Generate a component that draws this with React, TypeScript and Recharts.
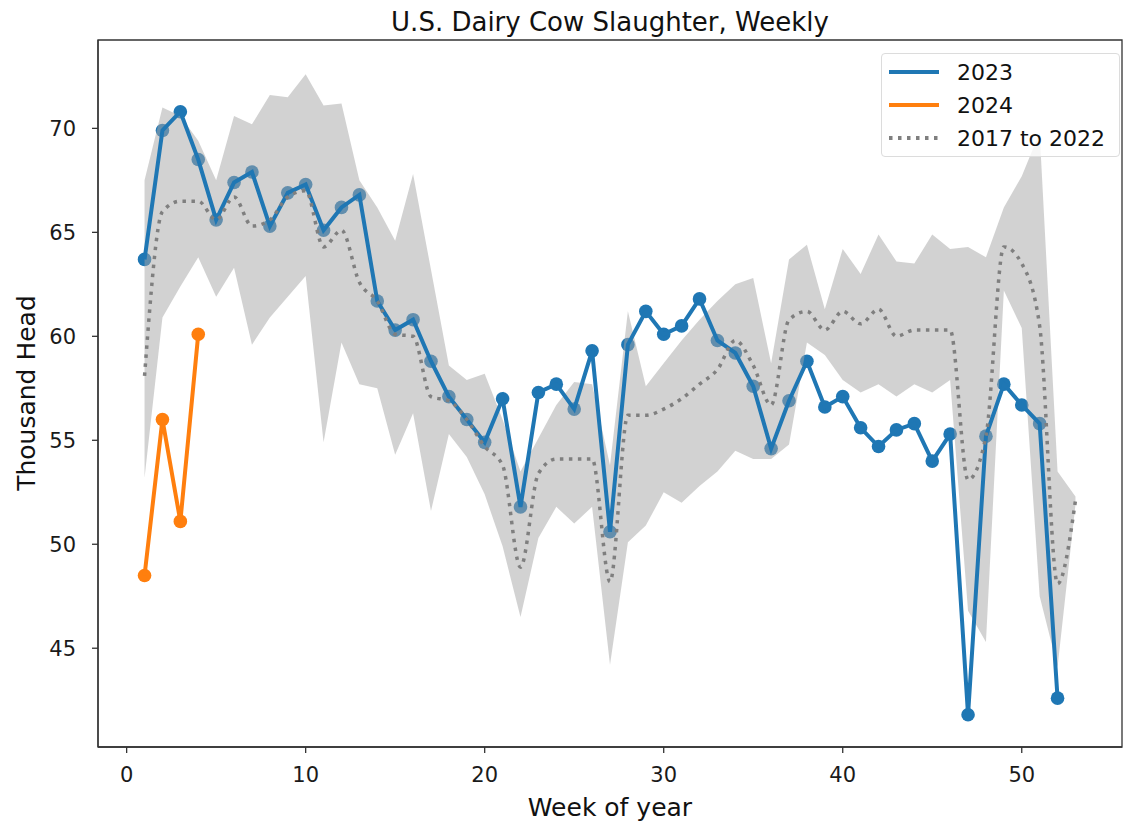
import React from 'react';
import { ComposedChart, Line, Area, XAxis, YAxis, Legend, ReferenceArea } from 'recharts';

const FONT = '"DejaVu Sans", Verdana, sans-serif';
const BLUE = '#1f77b4';
const ORANGE = '#ff7f0e';
const GREY = '#7f7f7f';

const WEEKS = [
    1, 2, 3, 4, 5, 6, 7, 8, 9, 10, 11, 12, 13, 14, 15, 16, 17, 18, 19, 20, 21, 22, 23, 24, 25, 26,
    27, 28, 29, 30, 31, 32, 33, 34, 35, 36, 37, 38, 39, 40, 41, 42, 43, 44, 45, 46, 47, 48, 49, 50, 51, 52, 53,
];

const Y2023 = [
    63.7, 69.9, 70.8, 68.5, 65.6, 67.4, 67.9, 65.3, 66.9, 67.3,
    65.1, 66.2, 66.8, 61.7, 60.3, 60.8, 58.8, 57.1, 56.0, 54.9,
    57.0, 51.8, 57.3, 57.7, 56.5, 59.3, 50.6, 59.6, 61.2, 60.1,
    60.5, 61.8, 59.8, 59.2, 57.6, 54.6, 56.9, 58.8, 56.6, 57.1,
    55.6, 54.7, 55.5, 55.8, 54.0, 55.3, 41.8, 55.2, 57.7, 56.7,
    55.8, 42.6,
];

const Y2024 = [48.5, 56.0, 51.1, 60.1];

// 2017-2022 average
const AVG = [
    58.1, 66.0, 66.5, 66.5, 65.6, 66.7, 65.3, 65.6, 66.7, 67.0,
    64.3, 65.1, 62.6, 61.7, 60.1, 60.0, 57.1, 56.9, 56.0, 54.7,
    53.8, 48.9, 53.4, 54.1, 54.1, 54.1, 48.2, 56.2, 56.2, 56.5,
    57.0, 57.7, 58.4, 59.8, 58.6, 56.7, 60.8, 61.2, 60.3, 61.2,
    60.6, 61.3, 60.0, 60.3, 60.3, 60.3, 53.1, 55.2, 64.3, 63.5,
    60.5, 48.1, 52.1,
];

// 2017-2022 min / max
const LOW = [
    53.2, 60.9, 62.4, 63.8, 61.9, 63.3, 59.6, 60.9, 61.9, 62.9,
    54.9, 59.7, 57.7, 57.5, 54.3, 56.3, 51.6, 55.3, 54.2, 52.4,
    49.9, 46.5, 50.3, 51.8, 51.0, 51.8, 44.2, 50.1, 50.9, 52.5,
    52.0, 52.8, 53.5, 54.5, 54.1, 54.1, 54.8, 59.7, 59.1, 57.9,
    57.3, 57.7, 57.1, 57.7, 57.3, 57.9, 46.8, 45.3, 62.2, 60.4,
    47.5, 44.1, 51.9,
];
const HIGH = [
    67.5, 71.0, 70.6, 69.4, 67.5, 70.6, 70.2, 71.6, 71.5, 72.6,
    71.1, 71.2, 67.5, 66.2, 64.6, 67.8, 63.2, 58.6, 57.9, 58.2,
    56.0, 53.5, 55.1, 56.7, 57.8, 57.7, 53.8, 61.2, 57.6, 58.7,
    59.8, 60.8, 61.7, 62.5, 62.8, 58.7, 63.7, 64.4, 61.3, 64.2,
    63.0, 64.9, 63.6, 63.5, 64.9, 64.2, 64.3, 63.8, 66.2, 67.7,
    69.8, 53.5, 52.3,
];

const X_TICKS = [0, 10, 20, 30, 40, 50];
const Y_TICKS = [45, 50, 55, 60, 65, 70];
const X_DOMAIN = [-1.6, 55.6];
const Y_DOMAIN = [40.25, 74.25];

const data = WEEKS.map((week, i) => ({
    week,
    y2023: Y2023[i] ?? null,
    y2024: Y2024[i] ?? null,
    avg: AVG[i],
    band: [LOW[i], HIGH[i]],
}));

const LEGEND_ITEMS = [
    { label: '2023', color: BLUE, dash: undefined },
    { label: '2024', color: ORANGE, dash: undefined },
    { label: '2017 to 2022', color: GREY, dash: '3.5 5.5' },
];

function LegendBox() {
    return (
        <div
            style={{
                position: 'relative',
                width: 239,
                height: 104,
                boxSizing: 'border-box',
                border: '1px solid #dcdcdc',
                borderRadius: 4,
                background: 'rgba(255,255,255,0.8)',
                fontFamily: FONT,
                fontSize: 22,
                color: '#111',
            }}
        >
            {LEGEND_ITEMS.map((item, i) => (
                <div key={item.label} style={{ position: 'absolute', left: 0, top: 2 + i * 33, height: 32, display: 'flex', alignItems: 'center' }}>
                    <svg width={60} height={10} style={{ marginLeft: 6 }}>
                        <line x1={1} y1={5} x2={51} y2={5} stroke={item.color} strokeWidth={4} strokeDasharray={item.dash} />
                    </svg>
                    <span style={{ marginLeft: 9, whiteSpace: 'nowrap' }}>{item.label}</span>
                </div>
            ))}
        </div>
    );
}

const dotRenderer = (color: string) => (props: any) => {
    const { cx, cy, index } = props;
    if (cx == null || cy == null || props.value == null) return <g key={index} />;
    return <circle key={index} cx={cx} cy={cy} r={6.8} fill={color} />;
};

export default function App() {
    const tickStyle = { fontSize: 21, fill: '#1a1a1a', fontFamily: FONT };
    return (
        <div style={{ position: 'absolute', left: 0, top: 0, width: 1127, height: 822, background: '#fff' }}>
            <div style={{ position: 'absolute', left: 98, width: 1024, top: 7, textAlign: 'center', fontFamily: FONT, fontSize: 26, color: '#111' }}>
                U.S. Dairy Cow Slaughter, Weekly
            </div>
            <div
                style={{
                    position: 'absolute',
                    left: 26,
                    top: 393,
                    transform: 'translate(-50%, -50%) rotate(-90deg)',
                    whiteSpace: 'nowrap',
                    fontFamily: FONT,
                    fontSize: 25,
                    color: '#111',
                }}
            >
                Thousand Head
            </div>
            <div style={{ position: 'absolute', left: 98, width: 1024, top: 793, textAlign: 'center', fontFamily: FONT, fontSize: 25, color: '#111' }}>
                Week of year
            </div>
            <ComposedChart width={1127} height={822} data={data} margin={{ top: 40, right: 5, bottom: 45, left: 38 }}>
                <XAxis
                    dataKey="week"
                    type="number"
                    domain={X_DOMAIN}
                    ticks={X_TICKS}
                    allowDataOverflow
                    height={30}
                    tick={tickStyle}
                    tickSize={6}
                    tickMargin={14}
                    axisLine={{ stroke: '#333', strokeWidth: 1.3 }}
                    tickLine={{ stroke: '#333', strokeWidth: 1.3 }}
                />
                <YAxis
                    type="number"
                    domain={Y_DOMAIN}
                    ticks={Y_TICKS}
                    allowDataOverflow
                    width={60}
                    tick={tickStyle}
                    tickSize={6}
                    tickMargin={16}
                    axisLine={{ stroke: '#333', strokeWidth: 1.3 }}
                    tickLine={{ stroke: '#333', strokeWidth: 1.3 }}
                />
                <ReferenceArea x1={X_DOMAIN[0]} x2={X_DOMAIN[1]} y1={Y_DOMAIN[0]} y2={Y_DOMAIN[1]} fill="none" stroke="#333" strokeWidth={1.3} ifOverflow="visible" />
                {/* 2023 markers sit under the band so they look muted inside it */}
                <Line dataKey="y2023" stroke="none" dot={dotRenderer(BLUE)} activeDot={false} legendType="none" isAnimationActive={false} zIndex={200} />
                <Area dataKey="band" type="linear" stroke="none" fill="#a6a5a6" fillOpacity={0.5} legendType="none" isAnimationActive={false} zIndex={700} />
                <Line dataKey="y2023" type="linear" stroke={BLUE} strokeWidth={4} dot={false} activeDot={false} isAnimationActive={false} zIndex={800} />
                <Line dataKey="y2024" type="linear" stroke={ORANGE} strokeWidth={4} dot={dotRenderer(ORANGE)} activeDot={false} isAnimationActive={false} zIndex={800} />
                <Line dataKey="avg" type="monotone" stroke={GREY} strokeWidth={3.5} strokeDasharray="3.5 5.5" dot={false} activeDot={false} isAnimationActive={false} zIndex={900} />
                <Legend
                    layout="vertical"
                    align="center"
                    verticalAlign="middle"
                    content={() => <LegendBox />}
                    wrapperStyle={{ position: 'absolute', left: 881, top: 53, width: 239, height: 104 }}
                />
            </ComposedChart>
        </div>
    );
}
